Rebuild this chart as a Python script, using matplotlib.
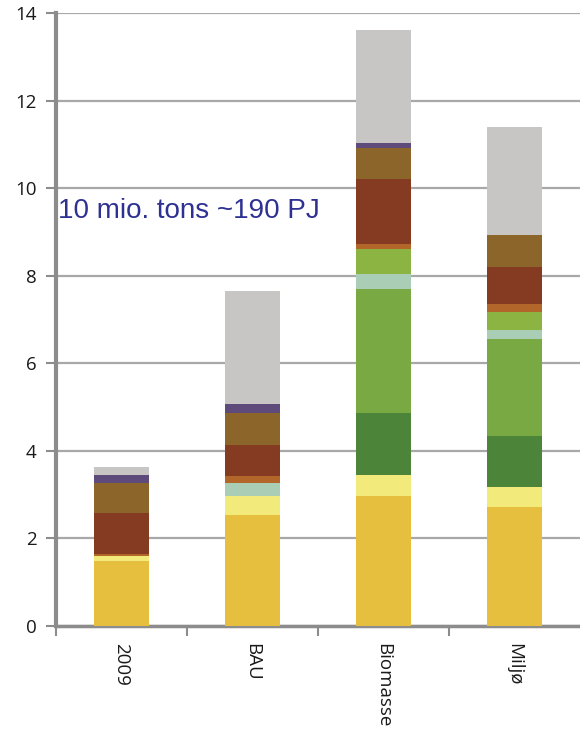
import numpy as np
import matplotlib.pyplot as plt

categories = ['2009', 'BAU', 'Biomasse', 'Miljø']

# stacked components (PJ/10), bottom to top
gold = [1.49, 2.53, 2.98, 2.72]
light_yellow = [0.10, 0.45, 0.46, 0.46]
dark_green = [0.00, 0.00, 1.42, 1.16]
mid_green = [0.00, 0.00, 2.84, 2.22]
teal = [0.00, 0.29, 0.35, 0.21]
light_green = [0.00, 0.00, 0.55, 0.41]
orange = [0.05, 0.15, 0.12, 0.17]
dark_red = [0.95, 0.71, 1.49, 0.84]
brown = [0.68, 0.73, 0.70, 0.73]
purple = [0.17, 0.21, 0.12, 0.00]
grey = [0.18, 2.59, 2.58, 2.48]

series = [gold, light_yellow, dark_green, mid_green, teal, light_green,
          orange, dark_red, brown, purple, grey]
colors = ['#E5BF3D', '#F3EA7C', '#4C853A', '#79A942', '#A9CEB5', '#8BB443',
          '#B2662A', '#853A22', '#8B6529', '#5F4B7B', '#C8C6C5']

fig = plt.figure(figsize=(5.8, 7.37), dpi=100)
ax = fig.add_axes([0.0966, 0.1506, 0.9034, 0.8318])

x = np.arange(len(categories))
bottom = np.zeros(len(categories))
for vals, c in zip(series, colors):
    ax.bar(x, vals, 0.42, bottom=bottom, color=c, zorder=3)
    bottom += np.array(vals)

ax.set_xlim(-0.5, 3.5)
ax.set_ylim(0, 14)
ax.set_yticks(range(0, 15, 2))
ax.set_yticklabels([str(v) for v in range(0, 15, 2)], fontsize=13.5,
                   family='Open Sans', color='#1A1A1A')
ax.yaxis.grid(True, color='#A8A8A8', linewidth=1.6, zorder=0)

ax.set_xticks(x)
ax.set_xticklabels(categories, rotation=-90, fontsize=13.5, family='Open Sans',
                   va='top', ha='center', color='#1A1A1A')
ax.tick_params(axis='x', length=0, pad=12)
ax.set_xticks([-0.5, 0.5, 1.5, 2.5], minor=True)
ax.tick_params(axis='x', which='minor', length=7, width=1.5, color='#8C8C8C')
ax.tick_params(axis='y', length=7, width=1.5, color='#8C8C8C', pad=7)

for s in ['top', 'right']:
    ax.spines[s].set_visible(False)
ax.spines['left'].set_color('#8C8C8C')
ax.spines['left'].set_linewidth(3)
ax.spines['bottom'].set_color('#8C8C8C')
ax.spines['bottom'].set_linewidth(2.5)

ax.text(-0.485, 9.32, '10 mio. tons ~190 PJ', fontsize=20, color='#2E3192',
        family='Liberation Sans', va='baseline', ha='left', zorder=4)

fig.savefig('out.png', dpi=100)
